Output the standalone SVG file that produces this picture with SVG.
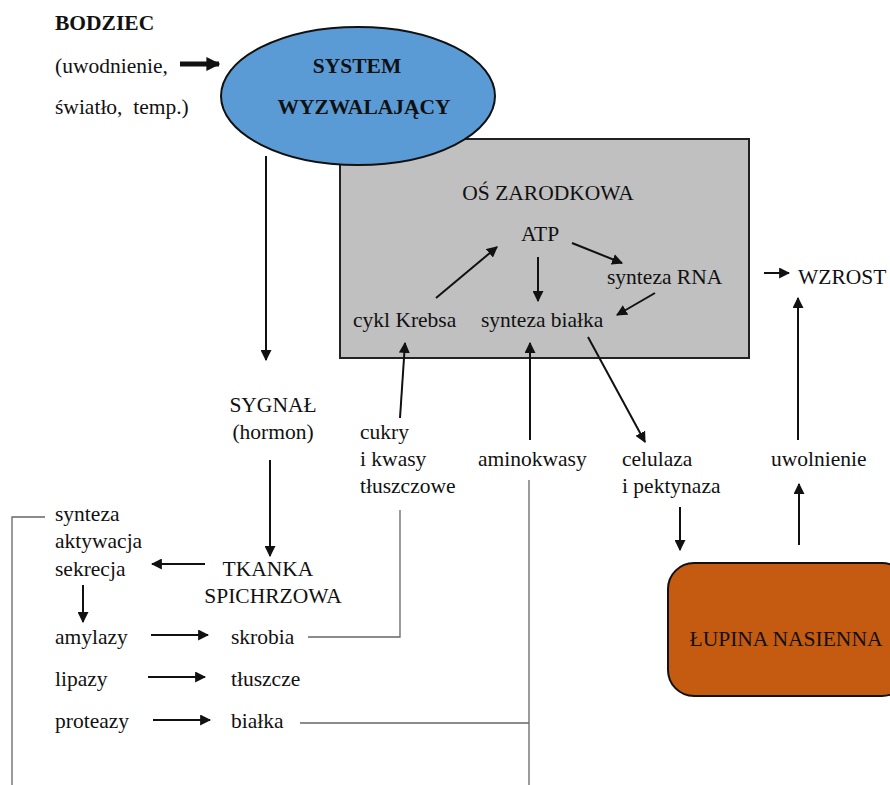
<svg xmlns="http://www.w3.org/2000/svg" width="890" height="785" viewBox="0 0 890 785">
<defs>
<style>
text{font-family:"Liberation Serif","Times New Roman","DejaVu Serif",serif;font-size:21.5px;fill:#111}
.b{font-weight:bold}
.m{text-anchor:middle}
.a{stroke:#111;stroke-width:2;fill:none;marker-end:url(#ah)}
.g{stroke:#666;stroke-width:1.3;fill:none}
</style>
<marker id="ah" viewBox="0 0 10 10" refX="9" refY="5" markerWidth="11" markerHeight="11" markerUnits="userSpaceOnUse" orient="auto"><path d="M0,0 L10,5 L0,10 z" fill="#111"/></marker>
<marker id="ahb" viewBox="0 0 10 10" refX="9" refY="5" markerWidth="14" markerHeight="14" markerUnits="userSpaceOnUse" orient="auto"><path d="M0,0 L10,5 L0,10 z" fill="#111"/></marker>
</defs>
<rect width="890" height="785" fill="#fff"/>
<g font-family="Liberation Serif, serif">
<g id="os-zarodkowa">
<rect x="340" y="139" width="409" height="219" fill="#c0c0c0" stroke="#222" stroke-width="2"/>
<text x="548" y="200" class="m">OŚ ZARODKOWA</text>
</g>
<g id="system"><ellipse cx="358" cy="96" rx="137" ry="69" fill="#5b9bd5" stroke="#111" stroke-width="2"/>
<text x="357" y="73" class="b m">SYSTEM</text>
<text x="364" y="114" class="b m">WYZWALAJĄCY</text></g>
<g id="bodziec"><text x="55" y="30" class="b">BODZIEC</text>
<text x="55" y="73">(uwodnienie,</text>
<text x="55" y="114" xml:space="preserve">światło,  temp.)</text></g>
<g id="atp"><text x="540" y="241" class="m">ATP</text></g>
<g id="rna"><text x="607" y="284">synteza RNA</text></g>
<g id="krebs"><text x="353" y="327">cykl Krebsa</text></g>
<g id="bialko"><text x="481" y="327">synteza białka</text></g>
<g id="wzrost"><text x="798" y="284">WZROST</text></g>
<g id="sygnal"><text x="273" y="412" class="m">SYGNAŁ</text><text x="273" y="439" class="m">(hormon)</text></g>
<g id="cukry"><text x="360" y="439">cukry</text><text x="360" y="466">i kwasy</text><text x="360" y="493">tłuszczowe</text></g>
<g id="aminokwasy"><text x="478" y="466">aminokwasy</text></g>
<g id="celulaza"><text x="622" y="466">celulaza</text><text x="622" y="493">i pektynaza</text></g>
<g id="uwolnienie"><text x="771" y="466">uwolnienie</text></g>
<g id="sak"><text x="55" y="521">synteza</text><text x="55" y="548">aktywacja</text><text x="55" y="576">sekrecja</text></g>
<g id="tkanka"><text x="268" y="576" class="m">TKANKA</text><text x="273" y="603" class="m">SPICHRZOWA</text></g>
<g id="amylazy"><text x="55" y="644">amylazy</text></g>
<g id="skrobia"><text x="231" y="644">skrobia</text></g>
<g id="lipazy"><text x="55" y="686">lipazy</text></g>
<g id="tluszcze"><text x="231" y="686">tłuszcze</text></g>
<g id="proteazy"><text x="55" y="728">proteazy</text></g>
<g id="bialka"><text x="231" y="728">białka</text></g>
<g id="lupina"><rect x="668" y="563" width="240" height="133" rx="26" fill="#c55a11" stroke="#111" stroke-width="2"/>
<text x="786" y="646" class="m">ŁUPINA NASIENNA</text></g>
</g>
<g id="connectors">
<line x1="180" y1="64" x2="219" y2="64" stroke="#111" stroke-width="5" marker-end="url(#ahb)"/>
<line class="a" x1="436" y1="298" x2="497" y2="247"/>
<line class="a" x1="538" y1="257" x2="538" y2="301"/>
<line class="a" x1="572" y1="243" x2="622" y2="263"/>
<line class="a" x1="655" y1="293" x2="617" y2="315"/>
<line class="a" x1="400" y1="418" x2="405" y2="343"/>
<line class="a" x1="530" y1="440" x2="530" y2="343"/>
<line class="a" x1="588" y1="337" x2="645" y2="442"/>
<line class="a" x1="764" y1="273" x2="789" y2="273"/>
<line class="a" x1="798" y1="440" x2="798" y2="298"/>
<line class="a" x1="266" y1="156" x2="266" y2="360"/>
<line class="a" x1="270" y1="460" x2="270" y2="556"/>
<line class="a" x1="205" y1="564" x2="152" y2="564"/>
<line class="a" x1="83" y1="585" x2="83" y2="622"/>
<line class="a" x1="151" y1="635" x2="208" y2="635"/>
<line class="a" x1="148" y1="677" x2="205" y2="677"/>
<line class="a" x1="153" y1="720" x2="210" y2="720"/>
<line class="a" x1="680" y1="507" x2="680" y2="550"/>
<line class="a" x1="799" y1="545" x2="799" y2="484"/>
<polyline class="g" points="308,637 400,637 400,510"/>
<polyline class="g" points="300,723 529,723"/>
<polyline class="g" points="529,480 529,785"/>
<polyline class="g" points="45,517 12,517 12,785"/>
</g>
</svg>
